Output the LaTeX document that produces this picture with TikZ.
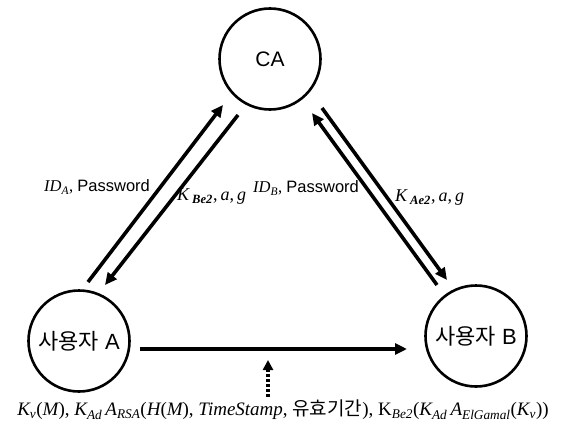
\documentclass[tikz,border=0pt]{standalone}
\usepackage{fontspec}
\setmainfont{Liberation Serif}
\setsansfont{Liberation Sans}
\newfontfamily\cjk{Noto Sans CJK KR}
\usetikzlibrary{arrows.meta}
\newcommand\sbs[1]{\textsubscript{\itshape #1}}
\begin{document}
\begin{tikzpicture}[x=1pt,y=-1pt,
  party/.style={circle, draw, line width=2.6pt, minimum size=101pt, inner sep=0pt,
    font=\sffamily\fontsize{21}{21}\selectfont},
  msg/.style={line width=3.6pt, -{Triangle[length=12pt,width=11pt]}},
  dotmsg/.style={line width=3.6pt, dash pattern=on 3pt off 2pt, -{Triangle[length=10pt,width=10pt]}},
  lbl/.style={inner sep=0pt, anchor=west, font=\fontsize{16.5}{16.5}\selectfont},
  klbl/.style={inner sep=0pt, anchor=west, font=\fontsize{18}{18}\selectfont}]
\useasboundingbox (0,0) rectangle (564,428);
\node[party] (CA) at (270,59) {CA};
\node[party, font=\sffamily\fontsize{22}{22}\selectfont] (A) at (79,341) {{\cjk 사용자} A};
\node[party, font=\sffamily\fontsize{22}{22}\selectfont] (B) at (476,336) {{\cjk 사용자} B};
% arrow end points
\coordinate (a1) at (88,282);  \coordinate (c1) at (223,105);
\coordinate (c2) at (238,115); \coordinate (a2) at (105,285);
\coordinate (b1) at (437,285); \coordinate (c3) at (312,113);
\coordinate (c4) at (322,108); \coordinate (b2) at (447,280);
\coordinate (ah) at (140,349); \coordinate (bh) at (407,349);
\coordinate (d0) at (268,397); \coordinate (d1) at (268,360);
\draw[msg] (a1) -- (c1);
\draw[msg] (c2) -- (a2);
\draw[msg] (b1) -- (c3);
\draw[msg] (c4) -- (b2);
\draw[msg] (ah) -- (bh);
\draw[dotmsg] (d0) -- (d1);
% labels
\node[lbl] (l1) at (44,187) {{\itshape ID}\sbs{A}, {\sffamily Password}};
\node[klbl] (l2) at (177,197) {{\itshape K}\,\sbs{\bfseries Be2},\,{\itshape a},\,{\itshape g}};
\node[lbl] (l3) at (253,188) {{\itshape ID}\sbs{B}, {\sffamily Password}};
\node[klbl] (l4) at (395,198) {{\itshape K}\,\sbs{\bfseries Ae2},\,{\itshape a},\,{\itshape g}};
\node[inner sep=0pt, font=\fontsize{19}{19}\selectfont] (f) at (283,410)
 {{\itshape K}\sbs{v}({\itshape M}), {\itshape K}\sbs{Ad}\,{\itshape A}\sbs{RSA}({\itshape H}({\itshape M}), {\itshape TimeStamp}, {\cjk 유효기간}), K\sbs{Be2}({\itshape K}\sbs{Ad}\,{\itshape A}\sbs{ElGamal}({\itshape K}\sbs{v}))};
\end{tikzpicture}
\end{document}
